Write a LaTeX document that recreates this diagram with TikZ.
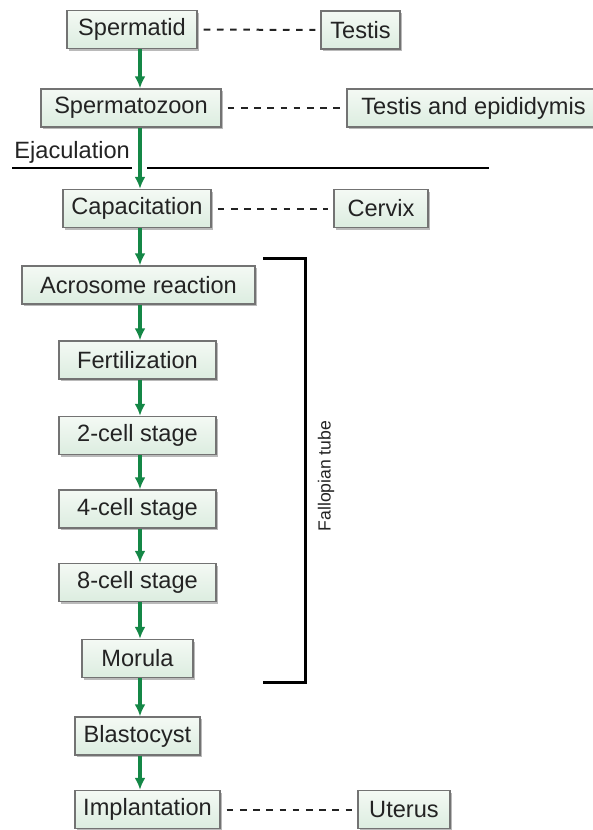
\documentclass[tikz,border=0pt]{standalone}
\usepackage{fontspec}
\setmainfont{Liberation Sans}
\usetikzlibrary{arrows.meta, shadows, calc}
\tikzset{>=latex}
\definecolor{mygreen}{RGB}{20, 135, 70}
\definecolor{myedge}{RGB}{115, 115, 115}
\definecolor{mytop}{RGB}{244, 249, 244}
\definecolor{mybottom}{RGB}{220, 237, 224}
\definecolor{mytext}{RGB}{35, 35, 35}
\tikzset{
  stagebox/.style={draw=myedge, line width=0.7pt, top color=mytop, bottom color=mybottom,
    minimum height=19pt, inner sep=0pt, text=mytext, font=\fontsize{11.8}{14}\selectfont,
    drop shadow={shadow xshift=1pt, shadow yshift=-1pt, fill=black!45, opacity=0.6}},
  flow/.style={-{Latex[length=6pt,width=5.5pt]}, mygreen, line width=1.7pt},
  sitelink/.style={mytext, line width=1pt, dash pattern=on 3.3pt off 3.3pt,
    shorten <=3pt, shorten >=2.5pt}
}

\begin{document}
\begin{tikzpicture}[x=0.5pt, y=-0.5pt]
\useasboundingbox (0, 0) rectangle (593, 830);

% Stages on the left
\node[stagebox, minimum width=65pt] (spermatid) at (132, 29.5) {Spermatid};
\node[stagebox, minimum width=90pt] (spermatozoon) at (131, 108) {Spermatozoon};
\node[stagebox, minimum width=74pt] (capacitation) at (137, 208.5) {Capacitation};
\node[stagebox, minimum width=116.5pt] (acrosome) at (138.5, 285) {Acrosome reaction};
\node[stagebox, minimum width=78.5pt] (fertilization) at (137.5, 360) {Fertilization};
\node[stagebox, minimum width=78.5pt] (cell2) at (137.5, 435.5) {2-cell stage};
\node[stagebox, minimum width=78.5pt] (cell4) at (137.5, 509) {4-cell stage};
\node[stagebox, minimum width=78.5pt] (cell8) at (137.5, 582.5) {8-cell stage};
\node[stagebox, minimum width=55.5pt] (morula) at (137.5, 658.5) {Morula};
\node[stagebox, minimum width=62.5pt] (blastocyst) at (137.5, 736) {Blastocyst};
\node[stagebox, minimum width=72.5pt] (implantation) at (147.5, 809.5) {Implantation};

% Sites on the right
\node[stagebox, minimum width=39.5pt] (testis) at (360.5, 30) {Testis};
\node[stagebox, minimum width=126.5pt] (epididymis) at (473.5, 108) {Testis and epididymis};
\node[stagebox, minimum width=47pt] (cervix) at (381, 208.5) {Cervix};
\node[stagebox, minimum width=46pt] (uterus) at (404, 809.5) {Uterus};

% Green arrows down the chain
\coordinate (ax) at (140, 0);
\foreach \a/\b in {spermatid/spermatozoon, spermatozoon/capacitation,
  capacitation/acrosome, acrosome/fertilization, fertilization/cell2,
  cell2/cell4, cell4/cell8, cell8/morula, morula/blastocyst, blastocyst/implantation}
  \draw[flow] (\a.south -| ax) -- (\b.north -| ax);

% Dashed links to the sites
\foreach \a/\b in {spermatid/testis, spermatozoon/epididymis,
  capacitation/cervix, implantation/uterus}
  \draw[sitelink] (\a.east) -- (\b.west);

% Ejaculation line
\node[anchor=base west, inner sep=0pt, text=mytext, font=\fontsize{11.8}{14}\selectfont]
  (ejaculation) at (14, 158) {Ejaculation};
\draw[black, line width=1pt] (12, 168) -- (132, 168);
\draw[black, line width=1pt] (147, 168) -- (489, 168);

% Bracket for the fallopian tube
\draw[black, line width=1.5pt] (263, 258) -- (305, 258) -- (305, 682) -- (263, 682);
\node[rotate=90, inner sep=0pt, text=mytext, font=\fontsize{8.8}{10}\selectfont]
  (tube) at (326, 476) {Fallopian tube};
\end{tikzpicture}
\end{document}
